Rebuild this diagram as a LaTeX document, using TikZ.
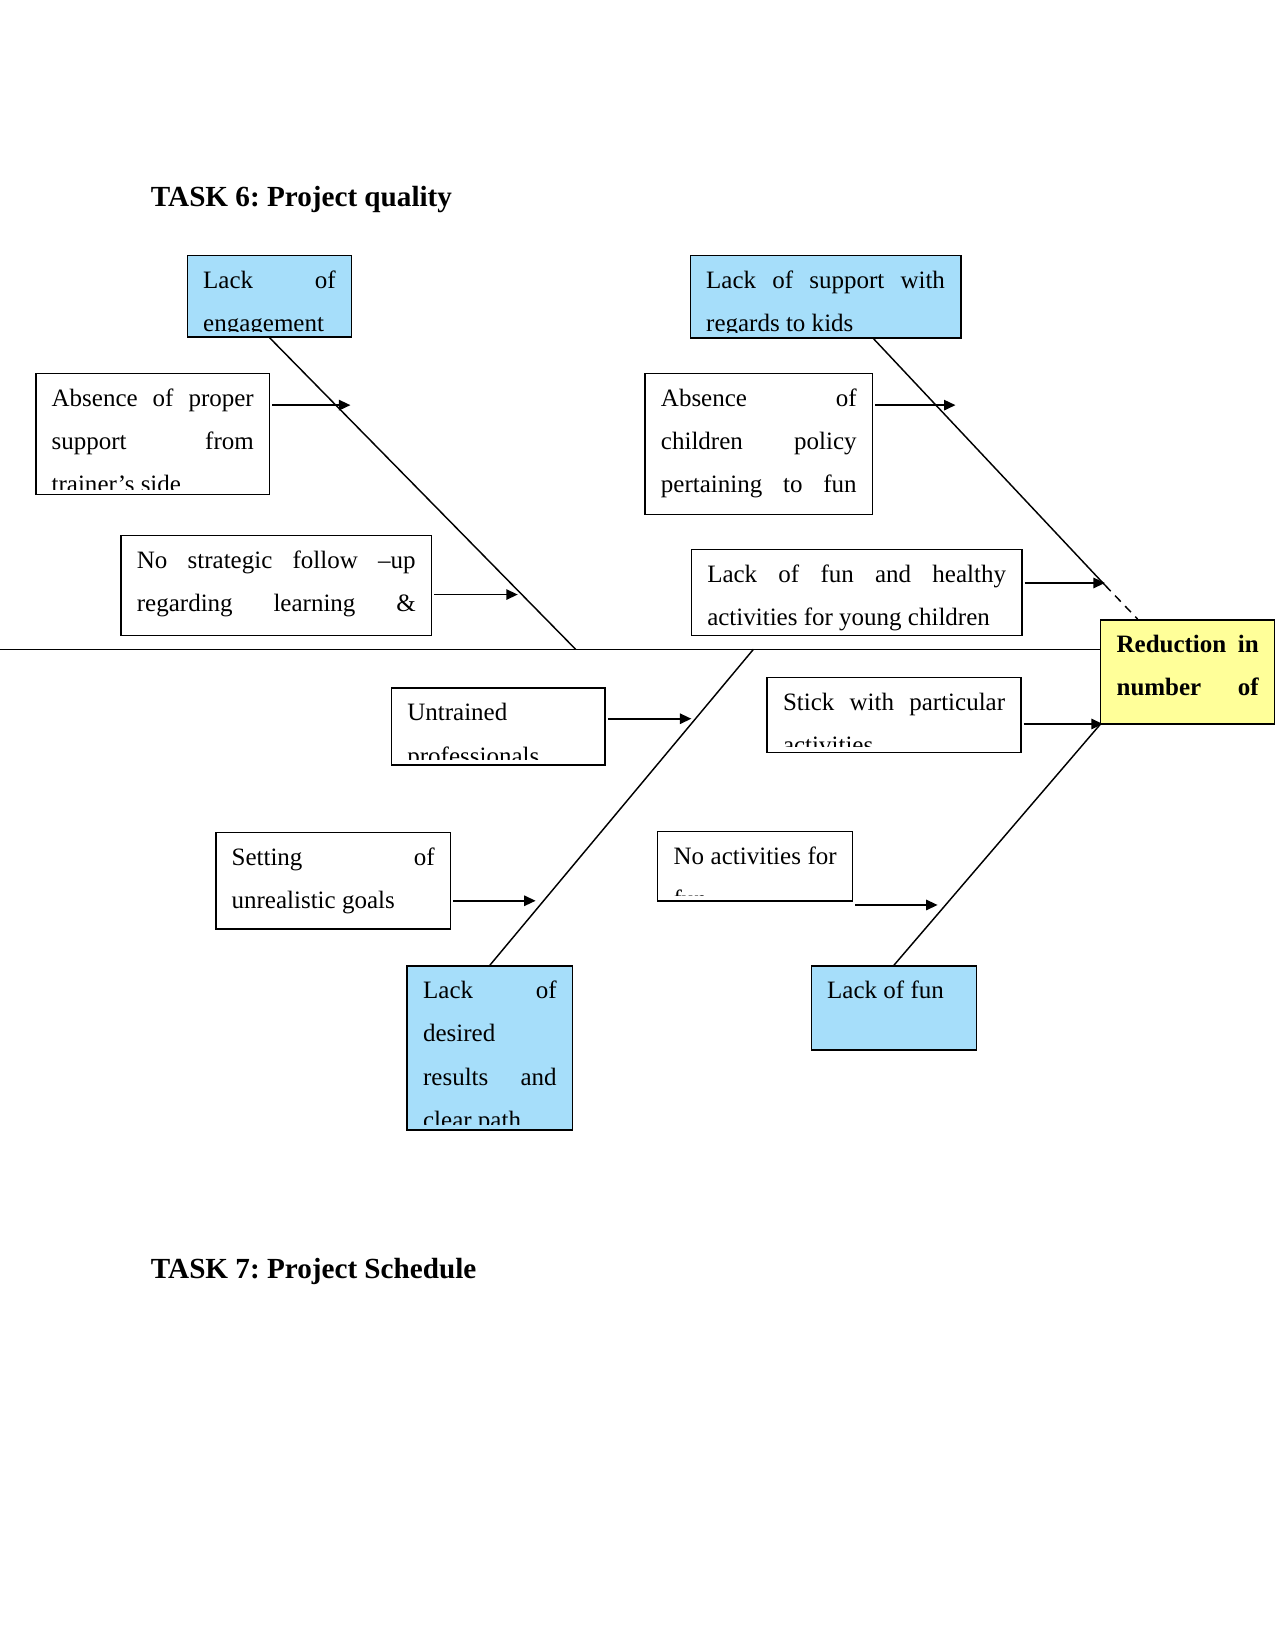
\documentclass[tikz,border=0pt]{standalone}
\usepackage{fontspec}
\setmainfont{Liberation Serif}
\usetikzlibrary{arrows.meta,fit}
\definecolor{skyfill}{HTML}{A6DEFA}
\definecolor{lemon}{HTML}{FFFF99}

\begin{document}
\begin{tikzpicture}[x=0.505pt,y=-0.505pt,
  every node/.style={font=\fontsize{12}{20.7}\selectfont},
  box/.style={draw,line width=0.75pt,inner sep=0pt},
  head/.style={fill=skyfill},
  effect/.style={fill=lemon},
  txt/.style={anchor=north west,inner sep=0pt,align=flush left},
  bone/.style={line width=0.7pt},
  arr/.style={-{Triangle[length=5.5pt,width=5pt]},line width=0.75pt,shorten <=1pt},
  title/.style={anchor=base west,inner sep=0pt,
    font=\fontsize{14}{17}\selectfont\bfseries\frenchspacing}]
\useasboundingbox (0,0) rectangle (1212,1568);

\node[title] (t6) at (143,196) {TASK 6: Project quality};
\node[title] (t7) at (143,1215) {TASK 7: Project Schedule};

% effect
\node[box,effect,fit={(1046,589) (1211,688)}] (reduce) {};

% upper causes
\node[box,head,fit={(178,243) (334,320)}] (lackEng) {};
\node[box,fit={(34,355) (256,470)}] (absSup) {};
\node[box,fit={(115,509) (410,604)}] (noFollow) {};
\node[box,head,fit={(656,243) (913,321)}] (lackSup) {};
\node[box,fit={(613,355) (829,489)}] (absPol) {};
\node[box,fit={(657,522) (971,604)}] (noHealthy) {};

% lower causes
\node[box,fit={(372,654) (575,727)}] (untrained) {};
\node[box,fit={(205,791) (428,883)}] (goals) {};
\node[box,head,fit={(387,918) (544,1074)}] (lackRes) {};
\node[box,fit={(729,644) (970,715)}] (stick) {};
\node[box,fit={(625,790) (810,856)}] (noAct) {};
\node[box,head,fit={(771,918) (928,998)}] (lackFun) {};

% box texts, cut off at the bottom like the text boxes
\foreach \n/\w/\t in {
    reduce/68.2pt/{\bfseries Reduction\hfill in\\ number\hfill of},
    lackEng/63.6pt/{Lack\hfill of\\ engagement},
    absSup/97pt/{Absence\hfill of\hfill proper\\ support\hfill from\\ trainer’s side},
    noFollow/133.8pt/{No\hfill strategic\hfill follow\hfill --up\\ regarding\hfill learning\hfill \&},
    lackSup/114.6pt/{Lack\hfill of\hfill support\hfill with\\ regards to kids},
    absPol/93.9pt/{Absence\hfill of\\ children\hfill policy\\ pertaining\hfill to\hfill fun},
    noHealthy/143.4pt/{Lack\hfill of\hfill fun\hfill and\hfill healthy\\ activities for young children},
    untrained/87.4pt/{Untrained\\ professionals},
    goals/97.5pt/{Setting\hfill of\\ unrealistic goals},
    lackRes/64.1pt/{Lack\hfill of\\ desired\\ results\hfill and\\ clear path},
    stick/106.6pt/{Stick\hfill with\hfill particular\\ activities},
    noAct/78.3pt/{No\hfill activities\hfill for\\ fun},
    lackFun/64.1pt/{Lack of fun}}{
  \begin{scope}
    \clip ([yshift=3pt]\n.south west) rectangle (\n.north east);
    \node[txt,text width=\w] (\n-txt) at ([shift={(7.8pt,-1.4pt)}]\n.north west) {\strut\t};
  \end{scope}}

% bones
\coordinate (tail) at (0,617);
\coordinate (jA) at (547,617);
\coordinate (jI) at (716,617);
\coordinate (dMid) at (1050,556);
\draw[bone] (tail) -- (tail -| reduce.west);
\draw[bone] (lackEng.south) -- (jA);
\draw[bone] (830,0 |- lackSup.south) -- (dMid);
\draw[bone,dash pattern=on 4pt off 3pt] (dMid) -- (1081,0 |- reduce.north);
\draw[bone] (lackRes.north) -- (jI);
\draw[bone] (lackFun.north) -- (reduce.south west);

% arrows into the bones
\coordinate (tB) at (333,385);
\coordinate (tC) at (492,565);
\coordinate (tE) at (908,385);
\coordinate (tF) at (1050,554);
\coordinate (tG) at (657,683);
\coordinate (tH) at (509,856);
\coordinate (tJ) at (1048,688);
\coordinate (tK) at (891,860);
\draw[arr] (absSup.east |- tB) -- (tB);
\draw[arr] (noFollow.east |- tC) -- (tC);
\draw[arr] (absPol.east |- tE) -- (tE);
\draw[arr] (noHealthy.east |- tF) -- (tF);
\draw[arr] (untrained.east |- tG) -- (tG);
\draw[arr] (goals.east |- tH) -- (tH);
\draw[arr] (stick.east |- tJ) -- (tJ);
\draw[arr] (noAct.south east |- tK) -- (tK);
\end{tikzpicture}
\end{document}
